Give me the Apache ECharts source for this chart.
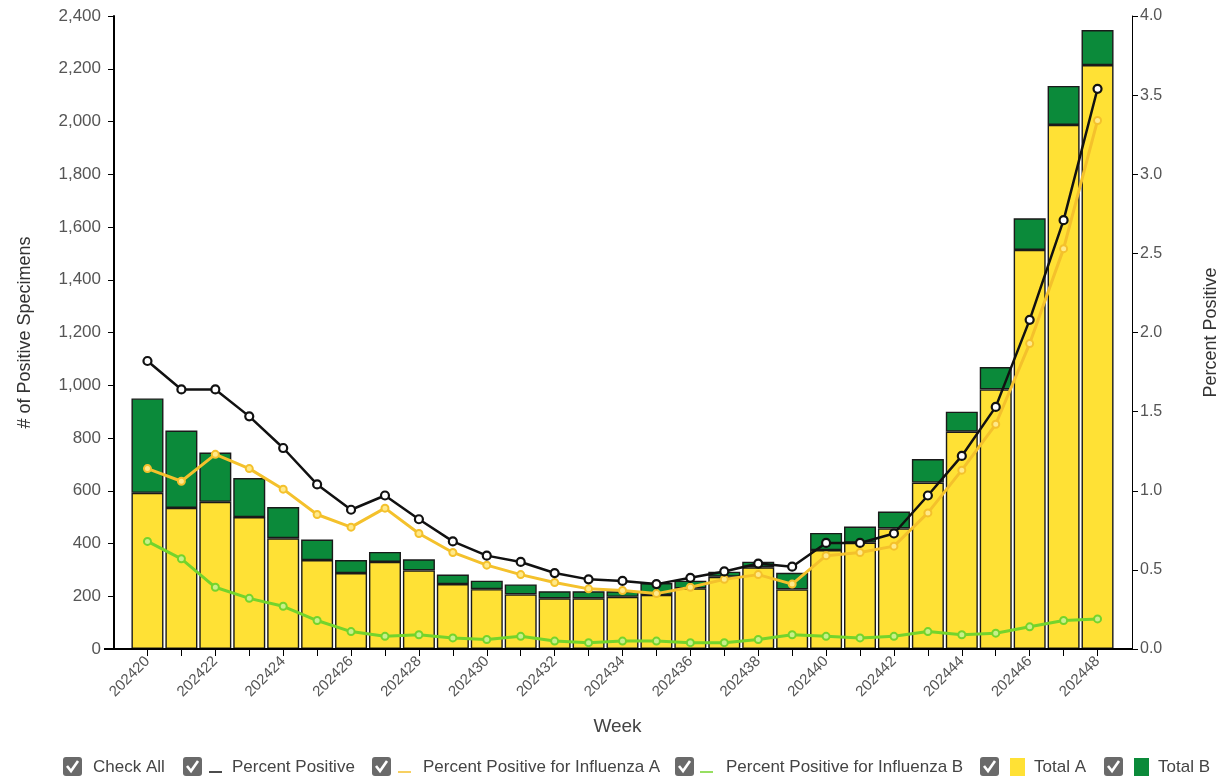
<!DOCTYPE html>
<html>
<head>
<meta charset="utf-8">
<script src="https://cdn.jsdelivr.net/npm/echarts@6/dist/echarts.min.js"></script>
<style>
html,body{margin:0;padding:0;background:#fff;}
#chart{width:1224px;height:778px;}
</style>
</head>
<body>
<div id="chart"></div>
<script>
const weeks = ['202420','202421','202422','202423','202424','202425','202426','202427','202428','202429','202430','202431','202432','202433','202434','202435','202436','202437','202438','202439','202440','202441','202442','202443','202444','202445','202446','202447','202448'];
const totalA = [592,535,558,500,420,337,288,330,298,246,227,207,192,192,198,205,230,274,310,226,375,403,457,631,824,984,1513,1987,2214];
const totalB = [358,293,187,148,118,78,49,38,42,36,32,38,27,27,21,45,29,19,21,63,65,61,64,89,76,85,120,148,133];
const pctPositive = [1.82,1.64,1.64,1.47,1.27,1.04,0.88,0.97,0.82,0.68,0.59,0.55,0.48,0.44,0.43,0.41,0.45,0.49,0.54,0.52,0.67,0.67,0.73,0.97,1.22,1.53,2.08,2.71,3.54];
const pctFluA = [1.14,1.06,1.23,1.14,1.01,0.85,0.77,0.89,0.73,0.61,0.53,0.47,0.42,0.38,0.37,0.35,0.39,0.44,0.47,0.41,0.59,0.61,0.65,0.86,1.13,1.42,1.93,2.53,3.34];
const pctFluB = [0.68,0.57,0.39,0.32,0.27,0.18,0.11,0.08,0.09,0.07,0.06,0.08,0.05,0.04,0.05,0.05,0.04,0.04,0.06,0.09,0.08,0.07,0.08,0.11,0.09,0.10,0.14,0.18,0.19];

const leftTicks = {min:0, max:2400, interval:200};
const rightTicks = {min:0, max:4, interval:0.5};

const COLORS = {a:'#ffe135', b:'#0b8a3a', pos:'#111111', fa:'#f4c12c', fb:'#74d42c'};

const legendItems = [
  {label:'Check All', key:null, cb:63, tx:93},
  {label:'Percent Positive', key:{type:'line', color:COLORS.pos, x:209}, cb:183, tx:232},
  {label:'Percent Positive for Influenza A', key:{type:'line', color:COLORS.fa, x:398}, cb:372, tx:423},
  {label:'Percent Positive for Influenza B', key:{type:'line', color:COLORS.fb, x:700}, cb:675, tx:726},
  {label:'Total A', key:{type:'box', color:COLORS.a, x:1010}, cb:980, tx:1034},
  {label:'Total B', key:{type:'box', color:COLORS.b, x:1134}, cb:1104, tx:1158}
];

const FONT = 'Liberation Sans, Arial, sans-serif';
const graphics = [];
graphics.push({type:'line', shape:{x1:104,y1:649,x2:1132,y2:649}, style:{stroke:'#000', lineWidth:2}, z:50});
legendItems.forEach(it => {
  graphics.push({type:'rect', shape:{x:it.cb, y:757, width:19, height:19, r:3}, style:{fill:'#6a6a6a'}});
  graphics.push({type:'polyline', shape:{points:[[it.cb+4,766],[it.cb+8,771],[it.cb+15,761]]}, style:{stroke:'#fff', lineWidth:2.6, fill:null}});
  if (it.key) {
    if (it.key.type === 'line') {
      graphics.push({type:'line', shape:{x1:it.key.x, y1:772, x2:it.key.x+13, y2:772}, style:{stroke:it.key.color, lineWidth:1.5}});
    } else {
      graphics.push({type:'rect', shape:{x:it.key.x, y:758, width:15, height:18}, style:{fill:it.key.color}});
    }
  }
  graphics.push({type:'text', x:it.tx, y:767, style:{text:it.label, font:'17px '+FONT, fill:'#444', verticalAlign:'middle', align:'left'}});
});

const chart = echarts.init(document.getElementById('chart'));
chart.setOption({
  animation:false,
  backgroundColor:'#fff',
  grid:{left:130.5, right:109.5, top:16, bottom:129, containLabel:false, outerBoundsMode:'none'},
  xAxis:{
    type:'category', data:weeks, boundaryGap:true,
    name:'Week', nameLocation:'middle', nameGap:68,
    nameTextStyle:{fontSize:19, color:'#444', fontFamily:FONT, padding:[0,10,0,0]},
    axisLine:{show:false},
    axisTick:{show:true, alignWithLabel:true, interval:0, length:7, lineStyle:{color:'#000', width:1}},
    axisLabel:{interval:1, rotate:45, fontSize:15, color:'#555', fontFamily:FONT, margin:10}
  },
  yAxis:[
    {type:'value', min:leftTicks.min, max:leftTicks.max, interval:leftTicks.interval, position:'left', offset:16.5,
     name:'# of Positive Specimens', nameLocation:'middle', nameGap:80, nameRotate:90,
     nameTextStyle:{fontSize:18, color:'#333', fontFamily:FONT},
     axisLine:{show:true, lineStyle:{color:'#000', width:2}},
     axisTick:{show:true, length:6, lineStyle:{color:'#000'}},
     axisLabel:{fontSize:17, color:'#555', fontFamily:FONT, margin:13, formatter:v=>v.toLocaleString('en-US')},
     splitLine:{show:false}},
    {type:'value', min:rightTicks.min, max:rightTicks.max, interval:rightTicks.interval, position:'right', offset:17.5,
     name:'Percent Positive', nameLocation:'middle', nameGap:70, nameRotate:90,
     nameTextStyle:{fontSize:18, color:'#333', fontFamily:FONT},
     axisLine:{show:true, lineStyle:{color:'#000', width:1}},
     axisTick:{show:true, length:6, lineStyle:{color:'#000'}},
     axisLabel:{fontSize:16, color:'#555', fontFamily:FONT, margin:8, formatter:v=>v.toFixed(1)},
     splitLine:{show:false}}
  ],
  series:[
    {name:'Total A', type:'bar', stack:'t', yAxisIndex:0, data:totalA, barWidth:32,
     itemStyle:{color:COLORS.a, borderColor:'#1a1a1a', borderWidth:1.4}},
    {name:'Total B', type:'bar', stack:'t', yAxisIndex:0, data:totalB, barWidth:32,
     itemStyle:{color:COLORS.b, borderColor:'#1a1a1a', borderWidth:1.4}},
    {name:'Percent Positive for Influenza B', type:'line', yAxisIndex:1, data:pctFluB, z:3,
     symbol:'circle', symbolSize:7, lineStyle:{color:COLORS.fb, width:3},
     itemStyle:{color:'#c8f08a', borderColor:COLORS.fb, borderWidth:2}},
    {name:'Percent Positive for Influenza A', type:'line', yAxisIndex:1, data:pctFluA, z:4,
     symbol:'circle', symbolSize:7, lineStyle:{color:COLORS.fa, width:3},
     itemStyle:{color:'#ffe98a', borderColor:COLORS.fa, borderWidth:2}},
    {name:'Percent Positive', type:'line', yAxisIndex:1, data:pctPositive, z:5,
     symbol:'circle', symbolSize:8, lineStyle:{color:COLORS.pos, width:2.5},
     itemStyle:{color:'#fff', borderColor:COLORS.pos, borderWidth:2.2}}
  ],
  graphic:graphics
});
</script>
</body>
</html>
